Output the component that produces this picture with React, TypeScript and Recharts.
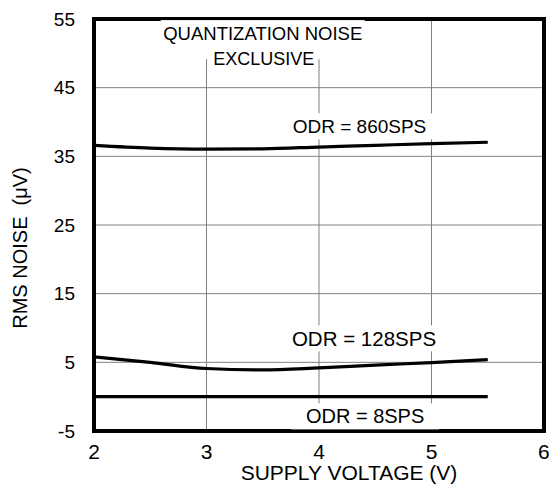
import React from 'react';
import { LineChart, Line, XAxis, YAxis, CartesianGrid, ReferenceArea, ReferenceDot } from 'recharts';

const voltages = [2, 2.5, 3, 3.5, 4, 4.5, 5, 5.5];
const odr860 = [36.6, 36.2, 36.05, 36.1, 36.35, 36.6, 36.85, 37.05];
const odr128 = [5.8, 5.0, 4.1, 3.9, 4.2, 4.6, 4.95, 5.4];
const odr8 = [0, 0, 0, 0, 0, 0, 0, 0];

const xTicks = [2, 3, 4, 5, 6];
const yTicks = [-5, 5, 15, 25, 35, 45, 55];

const annotationText = ['ODR = 860SPS', 'ODR = 128SPS', 'ODR = 8SPS'];
const annotationX = [4.36, 4.4, 4.41];
const annotationY = [39.37, 8.49, -2.87];
const annotationFont = [19, 20.5, 20];

const headerLines = ['QUANTIZATION NOISE', 'EXCLUSIVE'];
const headerX = 3.5;
const headerY = 51.2;

const data = voltages.map((v, i) => ({ v, a: odr860[i], b: odr128[i], c: odr8[i] }));

const FONT = '"Liberation Sans", Arial, sans-serif';

const makeLabelShape = (text: string, fontSize: number) => (props: any) => {
  const { cx, cy } = props;
  return (
    <g>
      <rect x={cx - 74} y={cy - 13} width={148} height={26} fill="#fff" />
      <text x={cx} y={cy} dy="0.355em" textAnchor="middle" fontFamily={FONT} fontSize={fontSize} fill="#000">
        {text}
      </text>
    </g>
  );
};

const headerShape = (props: any) => {
  const { cx, cy } = props;
  return (
    <g>
      <rect x={cx - 102} y={cy - 25} width={204} height={39} fill="#fff" />
      <text x={cx} y={cy - 11.6} dy="0.355em" textAnchor="middle" fontFamily={FONT} fontSize={18.5} fill="#000">
        {headerLines[0]}
      </text>
      <text x={cx + 1} y={cy + 14} dy="0.355em" textAnchor="middle" fontFamily={FONT} fontSize={18} fill="#000">
        {headerLines[1]}
      </text>
    </g>
  );
};

const yLabel = (props: any) => {
  const { viewBox } = props;
  const x = viewBox.x - 14;
  const y = viewBox.y + viewBox.height / 2 + 23;
  return (
    <text
      x={x}
      y={y}
      dy="0.355em"
      textAnchor="middle"
      fontFamily={FONT}
      fontSize={20}
      fill="#000"
      transform={`rotate(-90 ${x} ${y})`}
      style={{ whiteSpace: 'pre' }}
    >
      {'RMS NOISE  (\u03BCV)'}
    </text>
  );
};

export default function App() {
  return (
    <div style={{ position: 'absolute', left: 0, top: 0, background: '#fff' }}>
      <LineChart width={549} height={495} data={data} margin={{ top: 19, right: 5, bottom: 34, left: 34 }}>
        <CartesianGrid stroke="#808080" strokeWidth={1} />
        <XAxis
          dataKey="v"
          type="number"
          domain={[2, 6]}
          ticks={xTicks}
          height={30}
          axisLine={false}
          tickLine={false}
          tickMargin={7}
          tick={{ fill: '#000', fontSize: 21, fontFamily: FONT }}
          label={{ value: 'SUPPLY VOLTAGE (V)', position: 'bottom', offset: 4, dx: 30, fill: '#000', fontSize: 21, fontFamily: FONT }}
        />
        <YAxis
          type="number"
          domain={[-5, 55]}
          ticks={yTicks}
          width={60}
          axisLine={false}
          tickLine={false}
          tickMargin={13}
          tick={{ fill: '#000', fontSize: 19, fontFamily: FONT }}
          label={yLabel}
        />
        <Line type="monotone" dataKey="a" stroke="#000" strokeWidth={3.2} dot={false} isAnimationActive={false} />
        <Line type="monotone" dataKey="b" stroke="#000" strokeWidth={3.2} dot={false} isAnimationActive={false} />
        <Line type="monotone" dataKey="c" stroke="#000" strokeWidth={3.2} dot={false} isAnimationActive={false} />
        <ReferenceDot x={headerX} y={headerY} r={0} shape={headerShape} />
        {annotationText.map((t, i) => (
          <ReferenceDot key={t} x={annotationX[i]} y={annotationY[i]} r={0} shape={makeLabelShape(t, annotationFont[i])} />
        ))}
        <ReferenceArea x1={2} x2={6} y1={-5} y2={55} fill="none" fillOpacity={0} stroke="#000" strokeWidth={4} />
      </LineChart>
    </div>
  );
}
